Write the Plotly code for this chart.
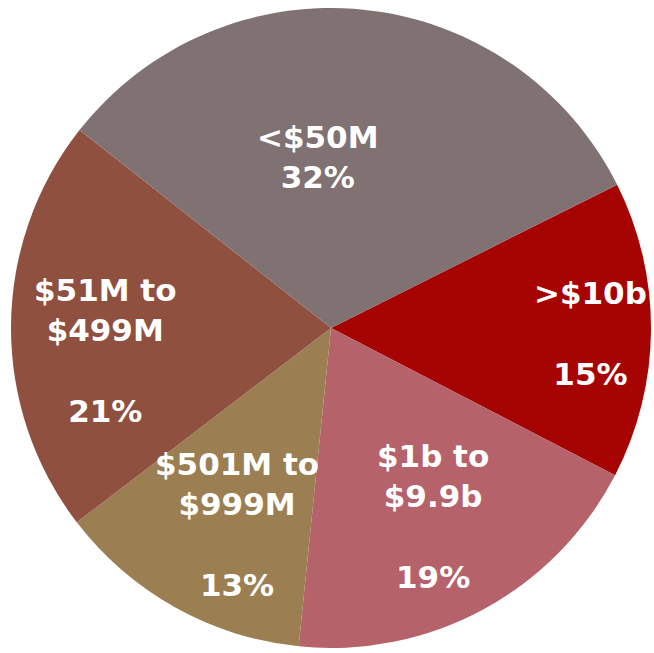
import math
import plotly.graph_objects as go

# revenue bands, clockwise from the >$10b slice
bands = ['>$10b', '$1b to<br>$9.9b', '$501M to<br>$999M', '$51M to<br>$499M', '<$50M']
shares = [15, 19, 13, 21, 32]
colors = ['#a60303', '#b5626b', '#9b7f52', '#8f5040', '#807172']

start = 63.4  # degrees clockwise from 12 o'clock

# label placement: radial fraction and angular nudge from the slice bisector
label_r = [0.81, 0.67, 0.68, 0.71, 0.536]
label_nudge = [0.9, -0.1, -3.7, -6.2, -10.2]
gaps = ['<br><br>', '<br><br>', '<br><br>', '<br><br>', '<br>']

fig = go.Figure(go.Pie(
    labels=bands,
    values=shares,
    textinfo='none',
    sort=False,
    direction='clockwise',
    rotation=start,
    marker=dict(colors=colors, line=dict(width=0)),
    hoverinfo='label+percent',
    showlegend=False,
))

total = sum(shares)
acc = 0
for band, share, rf, nudge, gap in zip(bands, shares, label_r, label_nudge, gaps):
    mid = start + (acc + share / 2) / total * 360 + nudge
    acc += share
    a = math.radians(mid)
    fig.add_annotation(
        x=0.5 + 0.5 * rf * math.sin(a),
        y=0.5 + 0.5 * rf * math.cos(a),
        xref='paper', yref='paper',
        xanchor='center', yanchor='middle',
        text=band + gap + f'{share}%',
        showarrow=False,
        align='center',
        font=dict(family='DejaVu Sans', size=31, color='white', weight='bold'),
    )

fig.update_layout(
    width=654, height=653,
    margin=dict(l=11, r=3, t=8, b=5),
    paper_bgcolor='white',
)

# drop the default page margin so the figure sits flush in the window
fig.write_html('out.html', config={'displayModeBar': False},
               post_script="document.body.style.margin='0';")
